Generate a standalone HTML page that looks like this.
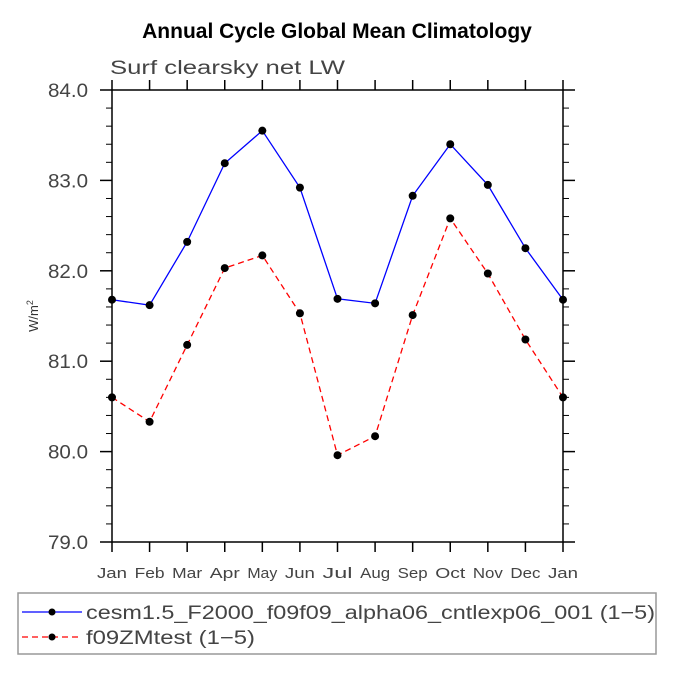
<!DOCTYPE html>
<html><head><meta charset="utf-8"><style>
body{margin:0;background:#fff}
svg text{font-family:"Liberation Sans",sans-serif}
</style></head><body>
<svg id="c" width="675" height="675">
<text x="337" y="38" text-anchor="middle" font-size="21" font-weight="bold">Annual Cycle Global Mean Climatology</text>
<text x="110" y="74" font-size="19" fill="#444" textLength="235" lengthAdjust="spacingAndGlyphs">Surf clearsky net LW</text>
<text transform="translate(38,316) rotate(-90)" text-anchor="middle" font-size="13" fill="#333">W/m<tspan dy="-5" font-size="9">2</tspan></text>
<g id="axes"></g>
<g id="series"></g>
<rect x="18" y="593" width="638" height="61" fill="none" stroke="#999" stroke-width="1.5"/>
<line x1="22" y1="612" x2="82" y2="612" stroke="blue" stroke-width="1.3"/>
<circle cx="52" cy="612" r="3.5"/>
<text x="86" y="619" font-size="19" fill="#444" textLength="569" lengthAdjust="spacingAndGlyphs">cesm1.5_F2000_f09f09_alpha06_cntlexp06_001 (1−5)</text>
<line x1="22" y1="637" x2="82" y2="637" stroke="red" stroke-width="1.3" stroke-dasharray="6,4"/>
<circle cx="52" cy="637" r="3.5"/>
<text x="86" y="644" font-size="19" fill="#444" textLength="169" lengthAdjust="spacingAndGlyphs">f09ZMtest (1−5)</text>
</svg>
<script>
const months=["Jan","Feb","Mar","Apr","May","Jun","Jul","Aug","Sep","Oct","Nov","Dec","Jan"];
const cesm=[81.68,81.62,82.32,83.19,83.55,82.92,81.69,81.64,82.83,83.40,82.95,82.25,81.68];
const f09=[80.60,80.33,81.18,82.03,82.17,81.53,79.96,80.17,81.51,82.58,81.97,81.24,80.60];
const yTicks=["79.0","80.0","81.0","82.0","83.0","84.0"];
const X0=112,X1=563,Y0=90,Y1=542,YMIN=79,YMAX=84;
const sx=i=>X0+(X1-X0)*i/(months.length-1);
const sy=v=>Y1-(v-YMIN)/(YMAX-YMIN)*(Y1-Y0);
const NS="http://www.w3.org/2000/svg";
function mk(t,a,p){const e=document.createElementNS(NS,t);for(const k in a)e.setAttribute(k,a[k]);p.appendChild(e);return e;}
const ax=document.getElementById('axes'),se=document.getElementById('series');
const frame=mk('rect',{x:X0,y:Y0,width:X1-X0,height:Y1-Y0,fill:'none',stroke:'#000','stroke-width':1.5},ax);


for(let v=YMIN;v<=YMAX+1e-6;v+=0.2){
  const maj=Math.abs(v-Math.round(v))<1e-6,L=maj?12:6,y=sy(v);
  const t1=mk('line',{x1:X0-L,y1:y,x2:X0,y2:y,stroke:'#000','stroke-width':maj?1.5:1},ax);
  
  
  const t2=mk('line',{x1:X1,y1:y,x2:X1+L,y2:y,stroke:'#000','stroke-width':maj?1.5:1},ax);
  
  
}
yTicks.forEach(s=>{
  const t=mk('text',{x:X0-64,y:sy(+s)+7,'font-size':19,fill:'#444',textLength:40,lengthAdjust:'spacingAndGlyphs'},ax);t.textContent=s;
  
  
});
months.forEach((m,i)=>{
  const x=sx(i);
  const a=mk('line',{x1:x,y1:Y1,x2:x,y2:Y1+10,stroke:'#000','stroke-width':1.5},ax);
  
  
  const b=mk('line',{x1:x,y1:Y0-10,x2:x,y2:Y0,stroke:'#000','stroke-width':1.5},ax);
  
  
  const t=mk('text',{x:x-15,y:Y1+36,'font-size':15,fill:'#444',textLength:30,lengthAdjust:'spacingAndGlyphs'},ax);t.textContent=m;
  
  
});
function series(d,col,dash,name){
  const p=mk('polyline',{points:d.map((v,i)=>sx(i)+','+sy(v)).join(' '),fill:'none',stroke:col,'stroke-width':1.3,'stroke-dasharray':dash},se);
  
  
  d.forEach((v,i)=>{
    const c=mk('circle',{cx:sx(i),cy:sy(v),r:4},se);
    
    
  });
}
series(cesm,'blue','none','cesm');
series(f09,'red','6,4','f09');
</script>
</body></html>
